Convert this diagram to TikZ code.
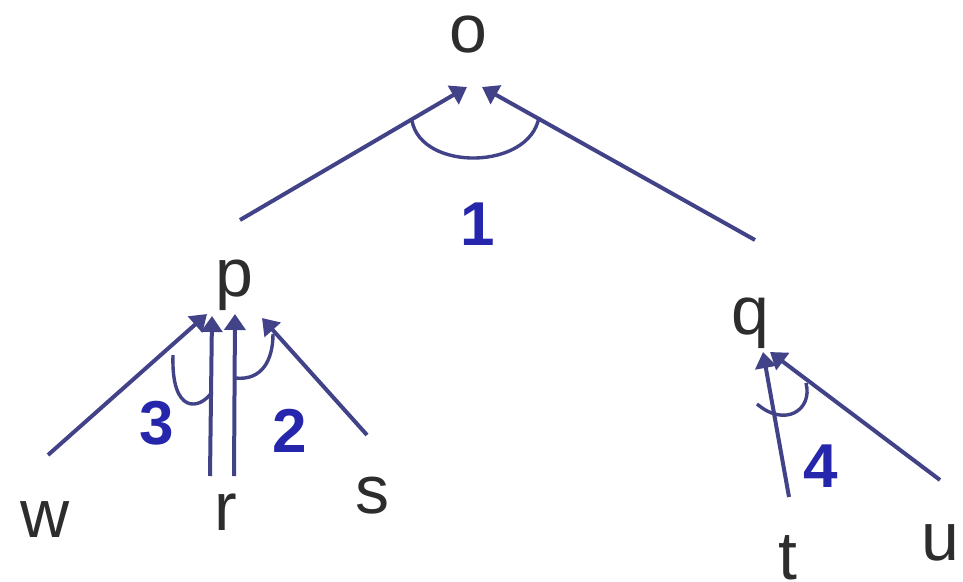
\documentclass[tikz,border=0pt]{standalone}
\usepackage{fontspec}
\setmainfont{Liberation Sans}
\usetikzlibrary{arrows.meta}
\definecolor{edgecol}{RGB}{66,66,136}
\definecolor{numcol}{RGB}{38,38,172}
\definecolor{txtcol}{RGB}{45,45,45}
\tikzset{
  letter/.style={anchor=base, inner sep=0pt, text=txtcol, font=\fontsize{68}{72}\selectfont},
  numlabel/.style={anchor=base, inner sep=0pt, text=numcol, font=\bfseries\fontsize{62}{66}\selectfont},
  edge/.style={draw=edgecol, line width=4pt, -{Triangle[length=16pt,width=21pt]}},
  anglearc/.style={draw=edgecol, line width=3.4pt},
}
\begin{document}
\begin{tikzpicture}[x=1pt,y=-1pt]
\useasboundingbox (0,0) rectangle (963,581);
% letters
\node[letter] (o) at (468,52) {o};
\node[letter] (p) at (234,296) {p};
\node[letter] (q) at (750,334) {q};
\node[letter] (w) at (45,537) {w};
\node[letter] (r) at (226,530) {r};
\node[letter] (s) at (372,513) {s};
\node[letter] (t) at (788,579) {t};
\node[letter] (u) at (940,560) {u};
% numbers
\node[numlabel] (n1) at (478,245) {1};
\node[numlabel] (n3) at (157,444) {3};
\node[numlabel] (n2) at (290,452) {2};
\node[numlabel] (n4) at (821,487) {4};
% endpoints
\coordinate (oL0) at (240,220); \coordinate (oL1) at (467,87);
\coordinate (oR0) at (755,240); \coordinate (oR1) at (482,87);
\coordinate (pw0) at (48,455);  \coordinate (pw1) at (207,314);
\coordinate (pr0) at (210,476); \coordinate (pr1) at (212,316);
\coordinate (pR0) at (234,476); \coordinate (pR1) at (235,314);
\coordinate (ps0) at (367,435); \coordinate (ps1) at (262,318);
\coordinate (qt0) at (789,497); \coordinate (qt1) at (763,352);
\coordinate (qu0) at (940,480); \coordinate (qu1) at (770,352);
% edges
\draw[edge] (oL0) -- (oL1);
\draw[edge] (oR0) -- (oR1);
\draw[edge] (pw0) -- (pw1);
\draw[edge] (pr0) -- (pr1);
\draw[edge] (pR0) -- (pR1);
\draw[edge] (ps0) -- (ps1);
\draw[edge] (qt0) -- (qt1);
\draw[edge] (qu0) -- (qu1);
% angle arcs
\coordinate (a1s) at (412,121); \coordinate (a1e) at (539,117);
\draw[anglearc] (a1s) .. controls (422,172) and (530,170) .. (a1e);
\coordinate (a3s) at (173,355); \coordinate (a3e) at (212,392);
\draw[anglearc] (a3s) .. controls (171,415) and (200,410) .. (a3e);
\coordinate (a2s) at (235,378); \coordinate (a2e) at (273,334);
\draw[anglearc] (a2s) .. controls (262,381) and (273,360) .. (a2e);
\coordinate (a4s) at (757,404); \coordinate (a4e) at (806,383);
\draw[anglearc] (a4s) .. controls (785,428) and (813,410) .. (a4e);
\end{tikzpicture}
\end{document}
